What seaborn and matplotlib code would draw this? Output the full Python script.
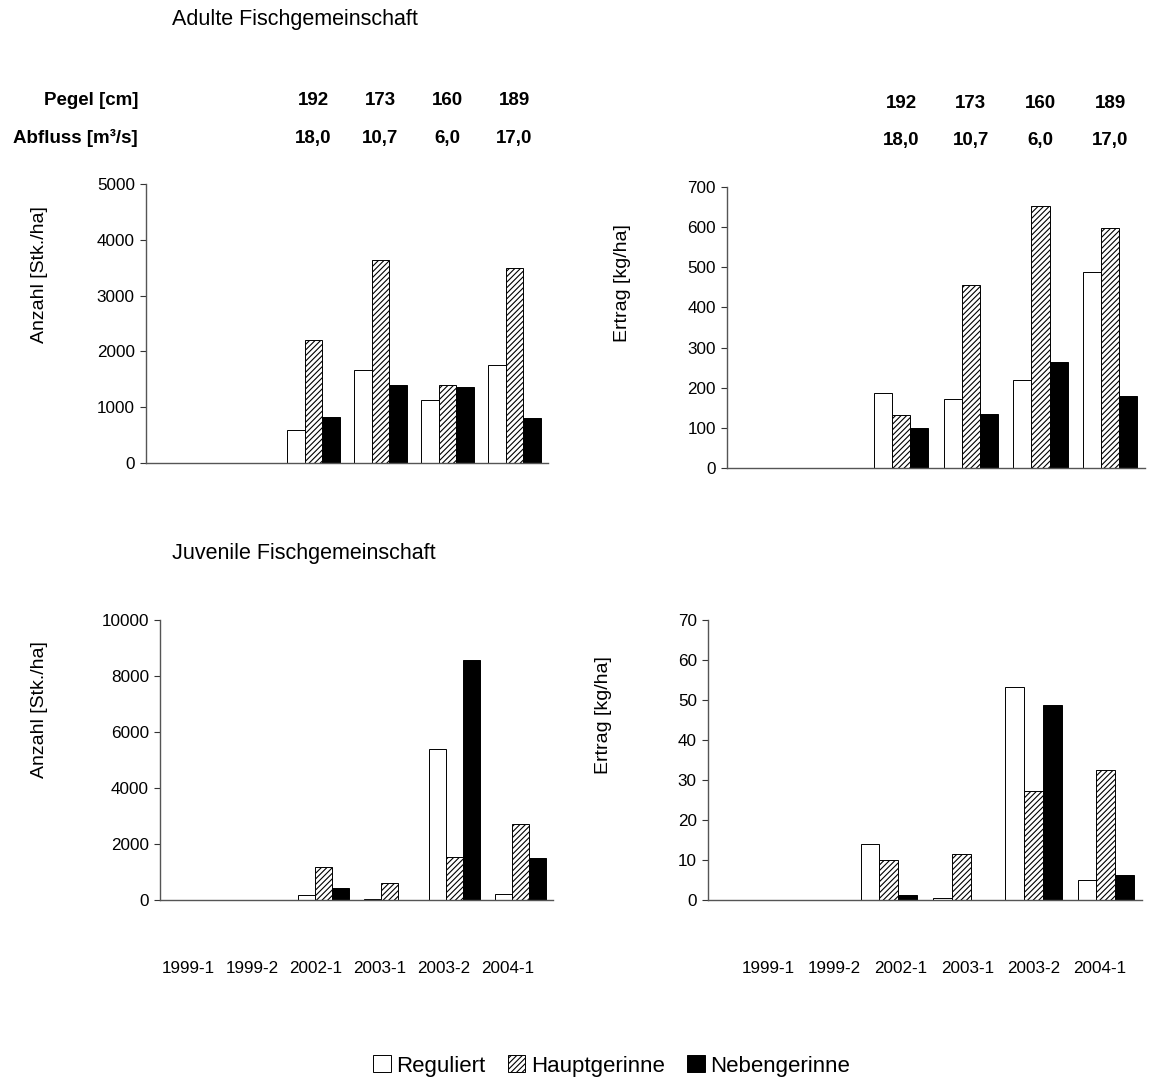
import matplotlib
matplotlib.use("Agg")
import matplotlib.pyplot as plt
import matplotlib.transforms as mtrans
import seaborn as sns
import pandas as pd
import numpy as np
from matplotlib.patches import Patch

sns.set_theme(style="white")
plt.rcParams['font.family'] = ['Liberation Sans', 'DejaVu Sans']
plt.rcParams['hatch.linewidth'] = 0.8
plt.rcParams['text.color'] = 'black'
plt.rcParams['axes.labelcolor'] = 'black'
plt.rcParams['xtick.color'] = 'black'
plt.rcParams['ytick.color'] = 'black'

categories = ["1999-1", "1999-2", "2002-1", "2003-1", "2003-2", "2004-1"]
series = ["Reguliert", "Hauptgerinne", "Nebengerinne"]

adult_anzahl_reg = [0, 0, 600, 1670, 1130, 1760]
adult_anzahl_haupt = [0, 0, 2200, 3630, 1390, 3490]
adult_anzahl_neben = [0, 0, 830, 1390, 1370, 800]

adult_ertrag_reg = [0, 0, 187, 172, 220, 488]
adult_ertrag_haupt = [0, 0, 133, 455, 652, 598]
adult_ertrag_neben = [0, 0, 100, 135, 265, 180]

juv_anzahl_reg = [0, 0, 170, 30, 5380, 200]
juv_anzahl_haupt = [0, 0, 1170, 600, 1530, 2700]
juv_anzahl_neben = [0, 0, 430, 0, 8580, 1500]

juv_ertrag_reg = [0, 0, 14.0, 0.5, 53.2, 5.0]
juv_ertrag_haupt = [0, 0, 10.0, 11.5, 27.2, 32.4]
juv_ertrag_neben = [0, 0, 1.3, 0, 48.8, 6.3]

pegel_labels = ["192", "173", "160", "189"]
abfluss_labels = ["18,0", "10,7", "6,0", "17,0"]
pegel_cats = ["2002-1", "2003-1", "2003-2", "2004-1"]

W, H = 1165, 1082
fig = plt.figure(figsize=(W / 100, H / 100), dpi=100)

TICK_FS = 12.3
LABEL_FS = 14


def ax_px(l, r, t, b):
    return fig.add_axes([l / W, 1 - b / H, (r - l) / W, (b - t) / H])


def make_df(reg, haupt, neben):
    rows = []
    for name, vals in zip(series, [reg, haupt, neben]):
        for c, v in zip(categories, vals):
            rows.append({"Termin": c, "Serie": name, "Wert": v})
    return pd.DataFrame(rows)


palette = {"Reguliert": "white", "Hauptgerinne": "white", "Nebengerinne": "black"}


def draw(ax, df, ymax, step, ylabel, label_xy, xlabel_pos=None):
    sns.barplot(data=df, x="Termin", y="Wert", hue="Serie", order=categories,
                hue_order=series, palette=palette, edgecolor="black",
                linewidth=0.7, width=0.78, ax=ax, legend=False, errorbar=None,
                saturation=1)
    n = len(categories)
    for i, p in enumerate(ax.patches[:3 * n]):
        s = i // n
        if s == 1:
            p.set_hatch("//////")
        if p.get_height() == 0:
            p.set_linewidth(0)
    ax.set_ylim(0, ymax)
    ax.set_xlim(-0.5, n - 0.5)
    ticks = np.arange(0, ymax + step / 2, step)
    ax.set_yticks(ticks)
    ax.set_yticklabels([f"{int(v)}" for v in ticks], fontsize=TICK_FS)
    ax.set_ylabel(ylabel, fontsize=LABEL_FS)
    ax.yaxis.set_label_coords(*label_xy)
    ax.set_xlabel("")
    if xlabel_pos is not None:
        ax.set_xticks(xlabel_pos)
        ax.set_xticklabels(categories, fontsize=TICK_FS)
        ax.tick_params(axis="x", length=0, pad=44)
    else:
        ax.set_xticks([])
    ax.tick_params(axis="y", length=4.5, width=0.8, color="#333333", pad=3.5, left=True)
    for sp in ["top", "right"]:
        ax.spines[sp].set_visible(False)
    for sp in ["left", "bottom"]:
        ax.spines[sp].set_color("#555555")
        ax.spines[sp].set_linewidth(1.0)
    ax.set_facecolor("white")


ax1 = ax_px(146, 548, 184, 463)
draw(ax1, make_df(adult_anzahl_reg, adult_anzahl_haupt, adult_anzahl_neben), 5000, 1000,
     "Anzahl [Stk./ha]", ((48 - 146) / 402, (463 - 275) / 279))
ax2 = ax_px(727, 1145, 187, 468)
draw(ax2, make_df(adult_ertrag_reg, adult_ertrag_haupt, adult_ertrag_neben), 700, 100,
     "Ertrag [kg/ha]", ((631 - 727) / 418, (468 - 283) / 281))
ax3 = ax_px(160, 553, 620, 900)
draw(ax3, make_df(juv_anzahl_reg, juv_anzahl_haupt, juv_anzahl_neben), 10000, 2000,
     "Anzahl [Stk./ha]", ((48 - 160) / 393, (900 - 710) / 280),
     xlabel_pos=[-0.07 + 0.976 * i for i in range(6)])
ax4 = ax_px(708, 1142, 620, 900)
draw(ax4, make_df(juv_ertrag_reg, juv_ertrag_haupt, juv_ertrag_neben), 70, 10,
     "Ertrag [kg/ha]", ((612 - 708) / 434, (900 - 715) / 280),
     xlabel_pos=[0.33 + 0.918 * i for i in range(6)])

# Titles
fig.text(172 / W, 1 - 20 / H, "Adulte Fischgemeinschaft", fontsize=15.5, ha="left", va="center")
fig.text(172 / W, 1 - 553 / H, "Juvenile Fischgemeinschaft", fontsize=15.5, ha="left", va="center")

# Pegel / Abfluss annotations
for ax, ypeg, yabf in [(ax1, 100, 138), (ax2, 103, 141)]:
    tr = mtrans.blended_transform_factory(ax.transData, fig.transFigure)
    for c, pl, al in zip(pegel_cats, pegel_labels, abfluss_labels):
        xi = categories.index(c)
        ax.text(xi, 1 - ypeg / H, pl, transform=tr, fontsize=13.5, fontweight="bold",
                ha="center", va="center")
        ax.text(xi, 1 - yabf / H, al, transform=tr, fontsize=13.5, fontweight="bold",
                ha="center", va="center")
fig.text(138 / W, 1 - 100 / H, "Pegel [cm]", fontsize=13.5, fontweight="bold", ha="right", va="center")
fig.text(138 / W, 1 - 138 / H, "Abfluss [m³/s]", fontsize=13.5, fontweight="bold", ha="right", va="center")

# Legend
handles = [Patch(facecolor="white", edgecolor="black", linewidth=0.7, label="Reguliert"),
           Patch(facecolor="white", edgecolor="black", linewidth=0.7, hatch="//////", label="Hauptgerinne"),
           Patch(facecolor="black", edgecolor="black", linewidth=0.7, label="Nebengerinne")]
fig.legend(handles=handles, loc="center", bbox_to_anchor=(0.525, 1 - 1066 / H), ncol=3,
           frameon=False, fontsize=16, handlelength=0.8, handleheight=0.8,
           handletextpad=0.25, columnspacing=1.0, borderpad=0.1)

fig.savefig("out.png", dpi=100, facecolor="white")
